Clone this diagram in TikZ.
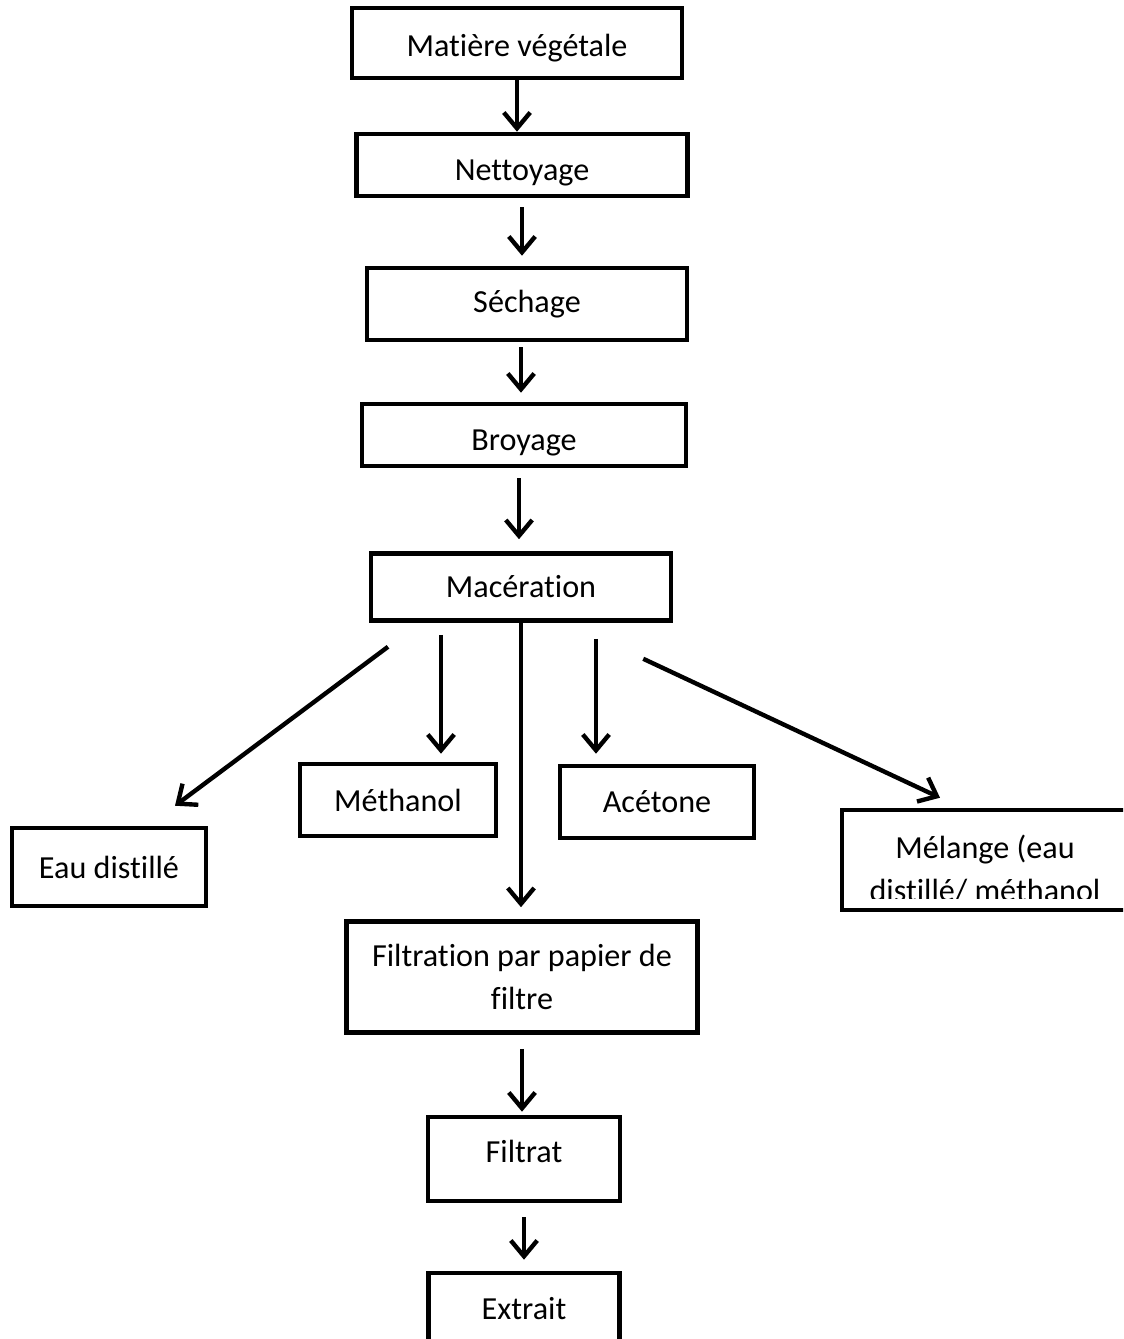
\documentclass[tikz,border=0pt]{standalone}
\usepackage{fontspec}
\setmainfont[Ligatures={NoCommon,NoContextual}]{Carlito}
\usetikzlibrary{arrows.meta}

\begin{document}
\begin{tikzpicture}[x=0.02cm,y=-0.02cm,
  box/.style={draw,line width=2.6pt,inner sep=0pt,align=center,
    font=\fontsize{18.3}{24.4}\selectfont},
  arr/.style={line width=2.5pt,-{Straight Barb[length=9pt,width=15pt]}}]
  \clip (0,0) rectangle (1123,1339);

  % Main chain
  \node[box,minimum width=6.6cm,minimum height=1.4cm,text height=18pt] (mat) at (517,43) {Matière végétale};
  \node[box,minimum width=6.62cm,minimum height=1.24cm,text height=20.5pt] (net) at (522,165) {Nettoyage};
  \node[box,minimum width=6.4cm,minimum height=1.44cm] (sech) at (527,304) {Séchage};
  \node[box,minimum width=6.48cm,minimum height=1.24cm,text height=20.5pt] (broy) at (524,435) {Broyage};
  \node[box,minimum width=6cm,minimum height=1.34cm] (mac) at (521,587) {Macération};

  % Solvents
  \node[box,minimum width=3.88cm,minimum height=1.56cm] (eau) at (109,867) {Eau distillé};
  \node[box,minimum width=3.92cm,minimum height=1.44cm] (meth) at (398,800) {Méthanol};
  \node[box,minimum width=3.88cm,minimum height=1.44cm] (acet) at (657,802) {Acétone};
  \node[box,minimum width=6cm,minimum height=2cm] (mel) at (992,860) {};
  \begin{scope}
    \clip (844,812) rectangle (1123,898);
    \node[box,draw=none] (meltext) at (985,869) {Mélange (eau\\distillé/ méthanol};
  \end{scope}

  % Filtration
  \node[box,minimum width=7.02cm,minimum height=2.22cm] (filt) at (522,977) {Filtration par papier de\\filtre};
  \node[box,minimum width=3.84cm,minimum height=1.68cm,text depth=0.32cm] (filtrat) at (524,1159) {Filtrat};
  \node[box,minimum width=3.82cm,minimum height=1.44cm] (extr) at (524,1309) {Extrait};

  % Arrows
  \draw[arr] (mat.south) -- (mat.south |- net.north);
  \draw[arr,shorten <=0.18cm,shorten >=0.2cm] (net.south) -- (net.south |- sech.north);
  \draw[arr,shorten <=0.1cm,shorten >=0.18cm] ([shift={(-6,0)}]sech.south) -- ([shift={(-6,0)}]sech.south |- broy.north);
  \draw[arr,shorten <=0.2cm,shorten >=0.24cm] ([shift={(-5,0)}]broy.south) -- ([shift={(-5,0)}]broy.south |- mac.north);

  \draw[arr] ([shift={(-133,24)}]mac.south) -- ([shift={(66,-20)}]eau.north);
  \draw[arr,shorten <=0.24cm,shorten >=0.16cm] ([shift={(-80,0)}]mac.south) -- ([shift={(-80,0)}]mac.south |- meth.north);
  \draw[arr,shorten >=0.24cm] (mac.south) -- (mac.south |- filt.north);
  \draw[arr,shorten <=0.32cm,shorten >=0.2cm] ([shift={(75,0)}]mac.south) -- ([shift={(75,0)}]mac.south |- acet.north);
  \draw[arr] ([shift={(-30,36)}]mac.south east) -- ([shift={(-52,-10)}]mel.north);

  \draw[arr,shorten <=0.28cm,shorten >=0.06cm] (filt.south) -- (filt.south |- filtrat.north);
  \draw[arr,shorten <=0.28cm,shorten >=0.22cm] (filtrat.south) -- (filtrat.south |- extr.north);
\end{tikzpicture}
\end{document}
